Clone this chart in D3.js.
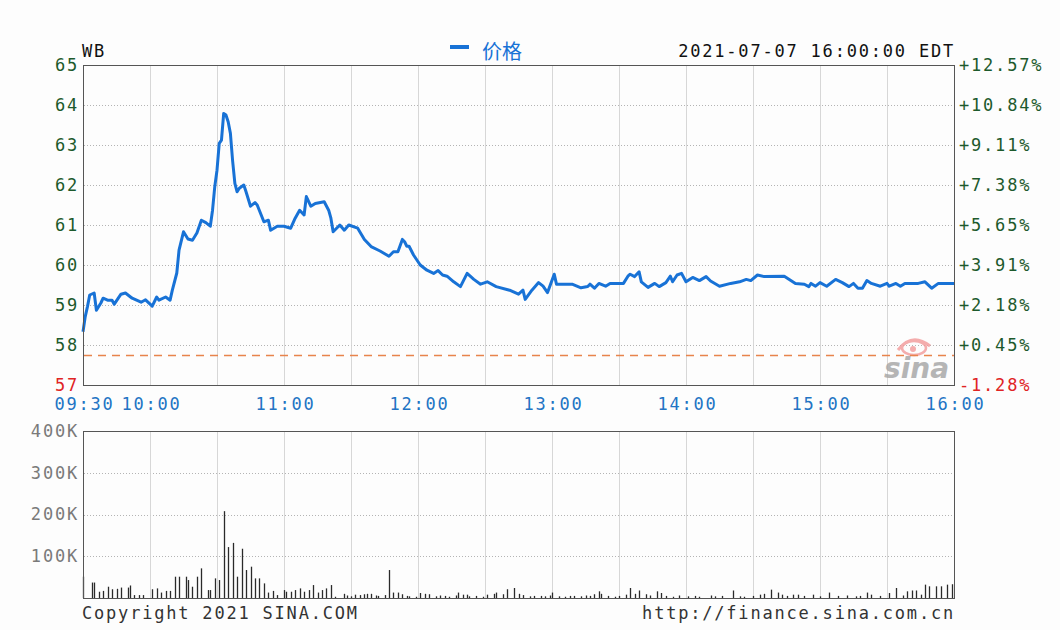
<!DOCTYPE html>
<html lang="zh">
<head>
<meta charset="utf-8">
<script src="https://cdn.jsdelivr.net/npm/d3@7"></script>
<style>
  body { margin: 0; background: #fdfdfd; }
  svg { display: block; }
  .mono { font-family: "DejaVu Sans Mono", "Liberation Mono", monospace; font-size: 17px; letter-spacing: 1.8px; }
</style>
</head>
<body>
<svg width="1060" height="630"></svg>
<script>
// ---- data ----
// minutes after 09:30, price
var timeMin = [0,1,2,3,5,6,8,9,11,13,14,17,19,22,26,28,31,33,34,37,39,40,42,43,45,47,49,51,53,55,57,58,59,60,61,62,63,64,65,66,67,68,69,70,72,73,75,77,78,81,83,84,87,90,93,95,97,99,100,102,104,108,110,111,112,115,117,119,123,126,129,133,137,139,141,143,144,145,146,148,151,154,157,159,161,163,166,169,172,175,178,181,185,191,195,197,198,201,204,206,208,211,212,219,223,226,227,229,231,234,236,242,244,245,247,249,250,253,256,258,261,263,264,266,268,270,273,276,279,281,285,290,294,297,299,302,305,314,319,323,325,326,328,330,333,337,340,343,345,347,349,351,353,357,360,361,364,366,368,374,377,380,383,390];
var price = [58.33,58.71,58.96,59.25,59.30,58.87,59.05,59.17,59.12,59.12,59.02,59.27,59.30,59.17,59.07,59.13,58.97,59.20,59.12,59.20,59.12,59.37,59.80,60.37,60.83,60.65,60.62,60.80,61.12,61.06,60.97,61.37,61.96,62.37,63.04,63.12,63.79,63.75,63.58,63.29,62.60,62.04,61.83,61.92,62.00,61.83,61.47,61.56,61.50,61.08,61.12,60.87,60.97,60.97,60.92,61.17,61.37,61.25,61.71,61.47,61.54,61.58,61.37,61.17,60.83,61.00,60.87,61.00,60.92,60.64,60.46,60.35,60.22,60.33,60.33,60.64,60.58,60.47,60.47,60.25,60.00,59.87,59.79,59.86,59.75,59.72,59.58,59.46,59.79,59.64,59.52,59.58,59.46,59.37,59.27,59.37,59.14,59.37,59.56,59.47,59.31,59.77,59.52,59.52,59.43,59.46,59.52,59.42,59.54,59.47,59.54,59.54,59.72,59.77,59.71,59.83,59.58,59.44,59.54,59.46,59.56,59.72,59.58,59.75,59.79,59.58,59.69,59.61,59.71,59.60,59.47,59.54,59.58,59.64,59.61,59.75,59.71,59.72,59.54,59.52,59.46,59.54,59.47,59.56,59.47,59.64,59.56,59.46,59.54,59.42,59.42,59.61,59.54,59.47,59.54,59.47,59.54,59.47,59.54,59.54,59.58,59.42,59.54,59.54];

// minutes after 09:30, volume in thousands
var volMin = [0,4,5,7,9,11,13,15,17,20,21,23,25,27,31,33,35,37,39,41,43,46,47,49,51,53,56,57,59,61,63,65,67,69,71,73,75,77,79,81,83,85,87,90,91,93,95,97,99,101,103,105,107,109,111,113,117,118,120,122,124,126,127,129,131,132,135,137,139,141,143,145,146,149,151,153,155,158,160,162,164,167,168,170,172,173,176,179,181,184,185,188,190,193,195,197,200,202,205,207,209,210,213,216,218,220,223,225,227,229,231,232,235,238,240,243,245,247,249,252,254,257,259,261,264,267,271,274,276,281,283,286,291,294,296,300,303,305,308,311,313,315,318,320,323,327,330,334,338,342,346,348,351,353,357,361,364,367,369,371,373,375,377,379,382,384,387,389];
var volK = [51,37,37,15,17,27,21,22,25,25,30,7,7,7,21,23,13,17,17,51,51,51,43,27,51,71,19,19,47,43,208,122,132,51,118,67,75,47,47,35,13,17,7,19,15,15,19,23,15,19,31,13,19,23,31,3,10,6,4,8,7,9,10,10,6,5,7,67,13,13,9,5,4,3,12,10,9,4,6,5,3,6,13,8,8,4,5,3,8,10,13,9,21,24,10,7,4,5,5,4,6,13,4,3,5,5,4,6,5,9,16,10,5,3,5,8,24,10,18,9,6,16,12,5,3,6,4,5,3,6,4,5,18,4,3,5,8,10,20,13,8,5,8,8,5,8,4,13,5,6,4,5,13,8,5,12,24,6,16,18,18,8,32,28,28,28,32,33];

var priceTicks = [57,58,59,60,61,62,63,64,65];
var pctLabels = ["-1.28%","+0.45%","+2.18%","+3.91%","+5.65%","+7.38%","+9.11%","+10.84%","+12.57%"];
var gridMin = [30,60,90,120,150,180,210,240,270,300,330,360];
var timeTicks = [0,30,90,150,210,270,330,390];
var timeLabels = ["09:30","10:00","11:00","12:00","13:00","14:00","15:00","16:00"];
var volTicks = [100,200,300,400];
var volLabels = ["100K","200K","300K","400K"];
var prevClose = 57.74;

var svg = d3.select("svg");

var x = d3.scaleLinear().domain([0, 390]).range([83, 954]);
var y = d3.scaleLinear().domain([57, 65]).range([385, 65]);
var yv = d3.scaleLinear().domain([0, 400]).range([598, 431]);

// ---- grid ----
function grid(yScale, ticks, top, bottom) {
    var g = svg.append("g");
    g.selectAll(".hg").data(ticks).enter().append("line")
        .attr("x1", 84).attr("x2", 954)
        .attr("y1", function (d) { return Math.round(yScale(d)) + 0.5; })
        .attr("y2", function (d) { return Math.round(yScale(d)) + 0.5; })
        .attr("stroke", "#b4b4b4").attr("stroke-dasharray", "1,2");
    g.selectAll(".vg").data(gridMin).enter().append("line")
        .attr("x1", function (d) { return Math.round(x(d)) + 0.5; })
        .attr("x2", function (d) { return Math.round(x(d)) + 0.5; })
        .attr("y1", top).attr("y2", bottom)
        .attr("stroke", "#d2d2d2").attr("stroke-width", 0.9);
}
grid(y, priceTicks.slice(1, -1), 65, 385);
grid(yv, volTicks.slice(0, -1), 431, 598);

// ---- sina watermark ----
var wm = svg.append("g").attr("opacity", 0.8);
wm.append("path").attr("d", "M898,350 Q912,332 930,346")
    .attr("fill", "none").attr("stroke", "#f29a9a").attr("stroke-width", 3);
wm.append("ellipse").attr("cx", 914).attr("cy", 348).attr("rx", 12).attr("ry", 7)
    .attr("fill", "none").attr("stroke", "#f29a9a").attr("stroke-width", 2.5);
wm.append("circle").attr("cx", 913).attr("cy", 349).attr("r", 3).attr("fill", "#f29a9a");
wm.append("text").attr("x", 884).attr("y", 378)
    .style("font-family", "DejaVu Sans").style("font-style", "italic").style("font-weight", "bold")
    .style("font-size", "28px").style("letter-spacing", "0px").attr("fill", "#a4a4a4").text("sina");

// ---- previous close ----
svg.append("line")
    .attr("x1", 84).attr("x2", 954)
    .attr("y1", y(prevClose)).attr("y2", y(prevClose))
    .attr("stroke", "#e8844c").attr("stroke-width", 1.5).attr("stroke-dasharray", "8,6");

// ---- price line ----
var pts = timeMin.map(function (t, i) { return [t, price[i]]; });
var line = d3.line().x(function (d) { return x(d[0]); }).y(function (d) { return y(d[1]); });
svg.append("path").datum(pts)
    .attr("d", line).attr("fill", "none")
    .attr("stroke", "#1872d6").attr("stroke-width", 3).attr("stroke-linejoin", "round");

// ---- volume bars ----
svg.append("g").selectAll("line").data(volMin).enter().append("line")
    .attr("x1", function (d) { return Math.round(x(d)) + 0.5; })
    .attr("x2", function (d) { return Math.round(x(d)) + 0.5; })
    .attr("y1", yv(0))
    .attr("y2", function (d, i) { return yv(volK[i]); })
    .attr("stroke", "#2a2a2a").attr("stroke-width", 1.3);

// ---- frames ----
svg.append("rect").attr("x", 83.5).attr("y", 65.5).attr("width", 871).attr("height", 320)
    .attr("fill", "none").attr("stroke", "#555");
svg.append("rect").attr("x", 83.5).attr("y", 431.5).attr("width", 871).attr("height", 167)
    .attr("fill", "none").attr("stroke", "#555");

// ---- axes ----
function styleAxis(g) {
    g.select(".domain").remove();
    g.selectAll(".tick line").remove();
    g.attr("font-family", null).attr("font-size", null);
    g.selectAll("text").attr("class", "mono");
}

var axL = svg.append("g").attr("transform", "translate(83,0)")
    .call(d3.axisLeft(y).tickValues(priceTicks).tickSize(0).tickPadding(4).tickFormat(d3.format("d")));
styleAxis(axL);
axL.selectAll("text").attr("fill", function (d) { return d < prevClose ? "#e02424" : "#1d5a2c"; });

var axR = svg.append("g").attr("transform", "translate(954,0)")
    .call(d3.axisRight(y).tickValues(priceTicks).tickSize(0).tickPadding(5)
        .tickFormat(function (d, i) { return pctLabels[i]; }));
styleAxis(axR);
axR.selectAll("text").attr("fill", function (d) { return d < prevClose ? "#e02424" : "#1d5a2c"; });

var axB = svg.append("g").attr("transform", "translate(0,385)")
    .call(d3.axisBottom(x).tickValues(timeTicks).tickSize(0).tickPadding(13)
        .tickFormat(function (d, i) { return timeLabels[i]; }));
styleAxis(axB);
axB.selectAll("text").attr("fill", "#2274c4").attr("dx", "1px");

var axV = svg.append("g").attr("transform", "translate(83,0)")
    .call(d3.axisLeft(yv).tickValues(volTicks).tickSize(0).tickPadding(4)
        .tickFormat(function (d, i) { return volLabels[i]; }));
styleAxis(axV);
axV.selectAll("text").attr("fill", "#7a7a7a");

// ---- header & footer ----
svg.append("text").attr("class", "mono").attr("x", 82).attr("y", 57).attr("fill", "#111").text("WB");
svg.append("rect").attr("x", 450).attr("y", 45).attr("width", 19).attr("height", 4).attr("fill", "#1872d6");
svg.append("text").attr("x", 482).attr("y", 59)
    .style("font-family", "Noto Sans CJK SC").style("font-size", "20px")
    .attr("fill", "#1872d6").text("价格");
svg.append("text").attr("class", "mono").attr("x", 955).attr("y", 57)
    .attr("text-anchor", "end").attr("fill", "#111").text("2021-07-07 16:00:00 EDT");
svg.append("text").attr("class", "mono").attr("x", 82).attr("y", 619)
    .attr("fill", "#333").text("Copyright 2021 SINA.COM");
svg.append("text").attr("class", "mono").attr("x", 955).attr("y", 619)
    .attr("text-anchor", "end").attr("fill", "#333").text("http://finance.sina.com.cn");
</script>
</body>
</html>
